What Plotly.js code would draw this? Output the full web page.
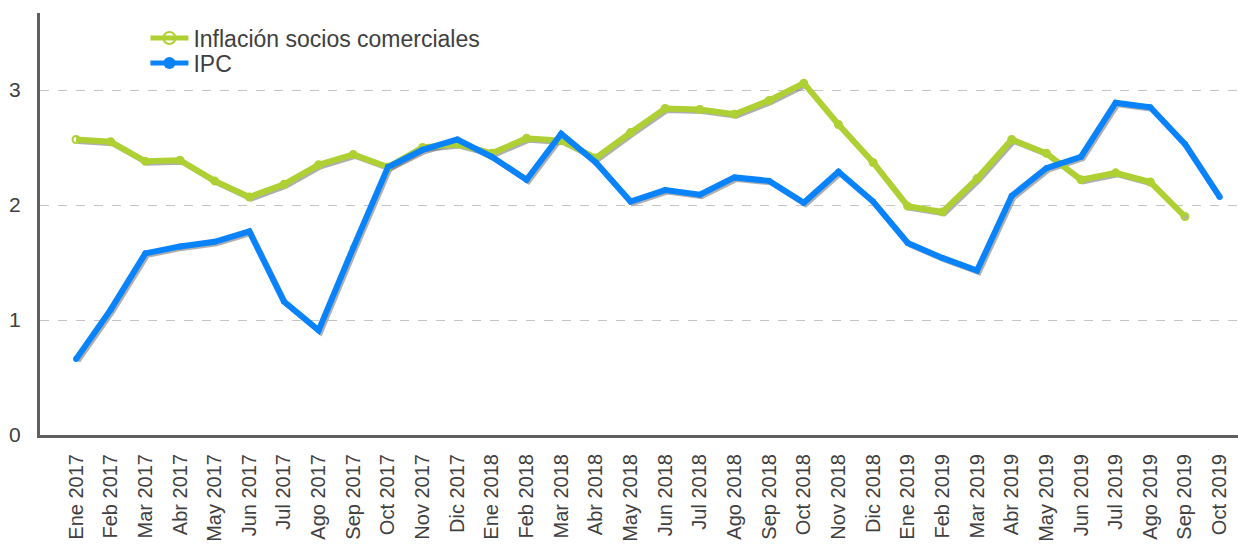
<!DOCTYPE html>
<html>
<head>
<meta charset="utf-8">
<script src="https://cdn.plot.ly/plotly-3.0.1.min.js"></script>
<style>html,body{margin:0;padding:0;background:#fff;}#chart{width:1238px;height:546px;}</style>
</head>
<body>
<div id="chart"></div>
<script>
const categories = ["Ene 2017","Feb 2017","Mar 2017","Abr 2017","May 2017","Jun 2017","Jul 2017","Ago 2017","Sep 2017","Oct 2017","Nov 2017","Dic 2017",
  "Ene 2018","Feb 2018","Mar 2018","Abr 2018","May 2018","Jun 2018","Jul 2018","Ago 2018","Sep 2018","Oct 2018","Nov 2018","Dic 2018",
  "Ene 2019","Feb 2019","Mar 2019","Abr 2019","May 2019","Jun 2019","Jul 2019","Ago 2019","Sep 2019","Oct 2019"];
const sociosName = "Inflación socios comerciales";
const socios = [2.57,2.55,2.38,2.39,2.21,2.07,2.18,2.35,2.44,2.33,2.50,2.53,
  2.45,2.58,2.56,2.41,2.63,2.84,2.83,2.79,2.91,3.06,2.70,2.37,
  1.99,1.94,2.23,2.57,2.45,2.22,2.28,2.20,1.90,null];
const ipcName = "IPC";
const ipc = [0.66,1.09,1.58,1.64,1.68,1.77,1.16,0.91,1.63,2.33,2.48,2.57,
  2.42,2.22,2.62,2.37,2.03,2.13,2.09,2.24,2.21,2.02,2.29,2.03,
  1.67,1.54,1.43,2.08,2.32,2.42,2.89,2.85,2.53,2.07];
const yTicks = [0,1,2,3];

const green = "#afd033";
const blue = "#0883fb";
const shadow = "rgba(110,110,110,0.55)";

const xr = [-1.04, 33.53];
const yr = [0, 3.67];
const pxX = (xr[1]-xr[0])/1198, pxY = (yr[1]-yr[0])/422;

const traces = [
  // drop shadows on the hidden base axes (shifted a couple of pixels)
  {x: categories, y: socios, xaxis:"x", yaxis:"y", mode:"lines", line:{color:shadow, width:5}, showlegend:false, hoverinfo:"skip"},
  {x: categories, y: ipc, xaxis:"x", yaxis:"y", mode:"lines", line:{color:shadow, width:5}, showlegend:false, hoverinfo:"skip"},
  // main series on the visible overlay axes
  {x: categories, y: socios, name: sociosName, xaxis:"x2", yaxis:"y2", legend:"legend", mode:"lines+markers", line:{color:green, width:6},
   marker:{symbol:"circle-open", size:7, color:green, line:{width:2, color:green}}},
  {x: categories, y: ipc, name: ipcName, xaxis:"x2", yaxis:"y2", legend:"legend2", mode:"lines+markers", line:{color:blue, width:6},
   marker:{symbol:"circle", size:6, color:blue}}
];

const legendBase = {x:0.088, xanchor:"left", yanchor:"middle", bgcolor:"rgba(0,0,0,0)",
  font:{size:23, color:"#404040"}, itemwidth:38, itemsizing:"constant"};

const layout = {
  width:1238, height:546,
  margin:{l:40, r:0, t:13, b:111, pad:0},
  paper_bgcolor:"#fff", plot_bgcolor:"#fff",
  font:{family:"Liberation Sans, Arial, sans-serif", color:"#404040", size:18},
  showlegend:true,
  legend:Object.assign({}, legendBase, {y:(435-38)/422}),
  legend2:Object.assign({}, legendBase, {y:(435-63)/422}),
  xaxis:{type:"category", categoryorder:"array", categoryarray:categories,
    range:[xr[0]-2*pxX, xr[1]-2*pxX], visible:false, anchor:"y"},
  yaxis:{range:[yr[0]+2*pxY, yr[1]+2*pxY], visible:false, anchor:"x"},
  xaxis2:{type:"category", categoryorder:"array", categoryarray:categories, range:xr,
    overlaying:"x", anchor:"y2",
    showline:true, linecolor:"#5f5f5f", linewidth:3, showgrid:false, zeroline:false,
    ticks:"", tickangle:-90, tickfont:{size:20, color:"#404040"}, ticklabelstandoff:8},
  yaxis2:{range:yr, tickvals:yTicks, ticktext:yTicks.map(String),
    overlaying:"y", anchor:"x2", side:"left",
    showline:true, linecolor:"#5f5f5f", linewidth:3, zeroline:false,
    showgrid:true, gridcolor:"#c4c4c4", griddash:"dash", gridwidth:1,
    ticks:"", tickfont:{size:21, color:"#404040"}, ticklabelstandoff:12}
};

Plotly.newPlot("chart", traces, layout, {staticPlot:true, displayModeBar:false});
</script>
</body>
</html>
